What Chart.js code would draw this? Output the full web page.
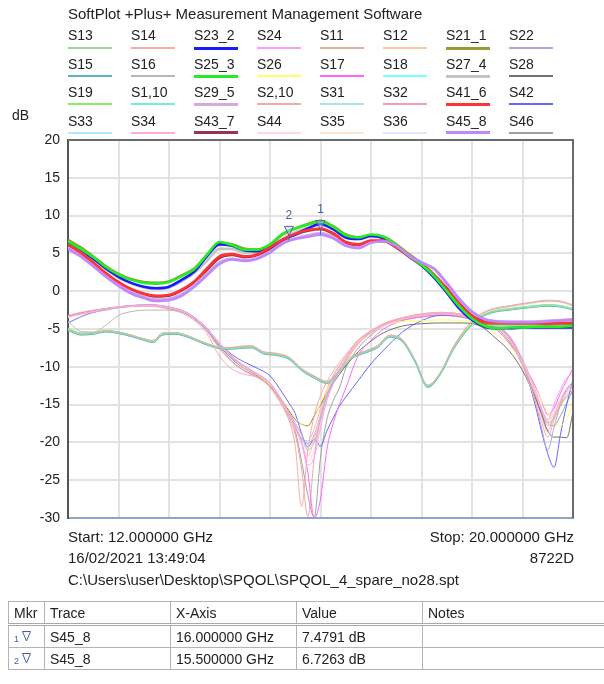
<!DOCTYPE html>
<html>
<head>
<meta charset="utf-8">
<script src="https://cdn.jsdelivr.net/npm/chart.js@4/dist/chart.umd.min.js"></script>
<style>
  body { margin: 0; width: 604px; height: 684px; overflow: hidden; background: #fff; position: relative;
         font-family: "Liberation Sans", Arial, sans-serif; color: #222; }
  #chart { position: absolute; left: 0; top: 0; }
  .t { position: absolute; font-size: 14px; line-height: 16px; white-space: nowrap; }
  .f { font-size: 15px; line-height: 17px; }
  .r { text-align: right; }
  .lg { position: absolute; height: 2px; width: 44px; }
  #tbl { position: absolute; left: 8px; top: 601px; width: 660px; table-layout: fixed; border-collapse: collapse; font-size: 14px; }
  #tbl td { border: 1px solid #b4b4b4; height: 21px; padding: 0 5px; white-space: nowrap; overflow: hidden; }
  #tbl tr.h td { border-bottom: 3px double #a8a8a8; }
  .mk { font-size: 9px; color: #4a5aa8; margin-right: 3px; }
</style>
</head>
<body>
<canvas id="chart" width="604" height="684"></canvas>
<div class="t f" style="left:68px;top:5px">SoftPlot +Plus+ Measurement Management Software</div>
<div class="t" style="left:12px;top:107px">dB</div>
<div id="legend"></div>
<div class="t f" style="left:68px;top:528px">Start: 12.000000 GHz</div>
<div class="t f r" style="right:30px;top:528px">Stop: 20.000000 GHz</div>
<div class="t f" style="left:68px;top:549px">16/02/2021 13:49:04</div>
<div class="t f r" style="right:30px;top:549px">8722D</div>
<div class="t f" style="left:68px;top:571px">C:\Users\user\Desktop\SPQOL\SPQOL_4_spare_no28.spt</div>
<table id="tbl">
  <colgroup><col style="width:36px"><col style="width:126px"><col style="width:126px"><col style="width:126px"><col style="width:246px"></colgroup>
  <tr class="h"><td>Mkr</td><td>Trace</td><td>X-Axis</td><td>Value</td><td>Notes</td></tr>
  <tr><td><span class="mk">1</span><svg width="9" height="12"><path d="M0.5 1.5 L8.5 1.5 L4.5 11 Z" fill="none" stroke="#4a5aa8"/></svg></td><td>S45_8</td><td>16.000000 GHz</td><td>7.4791 dB</td><td></td></tr>
  <tr><td><span class="mk">2</span><svg width="9" height="12"><path d="M0.5 1.5 L8.5 1.5 L4.5 11 Z" fill="none" stroke="#4a5aa8"/></svg></td><td>S45_8</td><td>15.500000 GHz</td><td>6.7263 dB</td><td></td></tr>
</table>
<script>
// frequency grids (GHz)
const freqT = [12.0, 12.2, 12.4, 12.6, 12.8, 13.0, 13.2, 13.4, 13.6, 13.8, 14.0, 14.2, 14.4, 14.6, 14.8, 15.0, 15.2, 15.4, 15.6, 15.8,
               16.0, 16.2, 16.4, 16.6, 16.8, 17.0, 17.2, 17.4, 17.6, 17.8, 18.0, 18.2, 18.4, 18.6, 18.8, 19.0, 19.2, 19.4, 19.6, 19.8, 20.0];
const freqA = [12.0, 12.2, 12.4, 12.6, 12.8, 13.0, 13.3, 13.6, 13.9, 14.2, 14.4, 14.6, 14.8, 15.0, 15.2, 15.4, 15.5, 15.6, 15.7, 15.8, 15.9, 16.0,
               16.1, 16.2, 16.3, 16.4, 16.6, 16.8, 17.0, 17.3, 17.6, 17.9, 18.2, 18.5, 18.8, 19.0, 19.2, 19.4, 19.5, 19.6, 19.7, 19.8, 19.9, 20.0];
const freqB = [12.0, 12.2, 12.4, 12.6, 12.8, 13.0, 13.2, 13.35, 13.5, 13.7, 13.9, 14.1, 14.3, 14.5, 14.7, 14.9, 15.1, 15.3, 15.5, 15.7,
               15.9, 16.1, 16.3, 16.5, 16.7, 16.9, 17.1, 17.3, 17.5, 17.7, 17.9, 18.1, 18.3, 18.5, 18.7, 19.0, 19.3, 19.6, 19.8, 20.0];

// transmission traces (dB, on freqT)
const s21_1 = [6.8, 5.8, 4.6, 3.3, 2.3, 1.6, 1.2, 1.1, 1.3, 2.1, 3.0, 4.8, 6.4, 6.2, 5.6, 5.5, 6.1, 7.5, 8.3, 8.9, 9.3, 8.6, 7.5, 7.1, 7.4, 7.2, 6.2, 4.9, 3.7, 2.2, 0.2, -1.8, -3.4, -4.3, -4.3, -4.3, -4.3, -4.3, -4.4, -4.3, -4.3];
const s23_2 = [6.5, 5.5, 4.3, 3.0, 1.9, 1.1, 0.6, 0.4, 0.6, 1.5, 2.6, 4.6, 6.2, 6.0, 5.4, 5.3, 5.8, 6.8, 7.5, 8.3, 8.9, 8.2, 7.1, 6.9, 7.3, 7.0, 6.0, 4.6, 3.4, 1.8, -0.2, -2.3, -3.8, -4.7, -4.9, -4.9, -4.8, -4.8, -4.8, -4.8, -4.8];
const s25_3 = [6.6, 5.6, 4.5, 3.2, 2.2, 1.5, 1.1, 1.0, 1.2, 2.0, 2.9, 4.8, 6.5, 6.1, 5.5, 5.5, 6.2, 7.6, 8.3, 8.8, 9.2, 8.5, 7.4, 7.1, 7.5, 7.2, 6.1, 4.7, 3.5, 2.0, 0.0, -2.0, -3.6, -4.6, -4.9, -4.8, -4.8, -4.7, -4.7, -4.7, -4.6];
const s27_4 = [6.4, 5.4, 4.2, 2.9, 1.8, 1.0, 0.5, 0.3, 0.5, 1.3, 2.4, 4.0, 5.6, 5.6, 5.1, 5.2, 5.9, 7.0, 7.8, 8.4, 8.8, 8.2, 7.1, 6.9, 7.2, 7.0, 6.0, 4.7, 3.6, 2.2, 0.2, -1.9, -3.5, -4.4, -4.5, -4.5, -4.5, -4.5, -4.5, -4.5, -4.4];
const s29_5 = [5.8, 4.8, 3.5, 2.1, 0.9, -0.1, -0.7, -1.1, -1.0, -0.4, 0.8, 2.3, 3.8, 4.3, 4.1, 4.4, 5.2, 6.4, 7.0, 7.4, 7.7, 7.2, 6.1, 5.8, 6.5, 6.7, 6.0, 4.7, 3.8, 2.9, 1.0, -1.1, -2.8, -3.7, -4.0, -4.0, -4.0, -4.0, -3.9, -3.8, -3.7];
const s41_6 = [6.2, 5.1, 3.8, 2.4, 1.2, 0.3, -0.3, -0.6, -0.5, 0.2, 1.3, 3.0, 4.6, 4.9, 4.6, 4.9, 5.8, 6.8, 7.6, 8.1, 8.3, 7.7, 6.5, 6.2, 6.7, 6.7, 5.8, 4.6, 3.5, 2.1, 0.3, -1.7, -3.3, -4.1, -4.1, -4.2, -4.2, -4.2, -4.3, -4.2, -4.2];
const s43_7 = [6.0, 5.0, 3.7, 2.3, 1.1, 0.2, -0.4, -0.7, -0.6, 0.1, 1.2, 2.8, 4.4, 4.8, 4.5, 4.8, 5.6, 6.7, 7.5, 8.0, 8.2, 7.6, 6.4, 6.1, 6.6, 6.6, 5.8, 4.6, 3.6, 2.2, 0.4, -1.6, -3.2, -4.0, -4.1, -4.2, -4.2, -4.3, -4.3, -4.2, -4.2];
const s45_8 = [5.6, 4.6, 3.3, 1.9, 0.7, -0.3, -0.9, -1.3, -1.2, -0.6, 0.6, 2.1, 3.6, 4.2, 4.0, 4.3, 5.1, 6.3, 6.9, 7.2, 7.48, 7.0, 6.0, 5.7, 6.4, 6.6, 6.0, 4.7, 3.8, 3.0, 1.1, -1.0, -2.7, -3.7, -4.0, -4.1, -4.1, -4.1, -4.0, -3.9, -3.8];

// reflection traces, first family (dB, on freqA)
const s12  = [-3.4, -3.0, -2.7, -2.4, -2.1, -2.0, -1.9, -2.2, -3.0, -5.0, -7.1, -8.9, -10.2, -11.1, -12.3, -14.8, -16.4, -18.2, -20.2, -21.8, -19.5, -16.2, -13.5, -11.6, -10.2, -9.0, -6.8, -5.4, -4.5, -3.7, -3.2, -3.0, -3.2, -3.8, -4.8, -6.4, -9.4, -13.4, -15.6, -17.2, -16.2, -14.6, -13.4, -12.8];
const s14  = [-3.2, -2.8, -2.5, -2.3, -2.1, -2.0, -2.0, -2.4, -3.3, -5.6, -8.6, -10.3, -11.0, -11.4, -12.6, -15.0, -17.0, -20.5, -28.5, -21.0, -16.5, -13.8, -12.0, -10.6, -9.4, -8.4, -6.4, -5.2, -4.3, -3.5, -3.1, -2.9, -3.1, -3.7, -4.7, -6.3, -9.8, -14.5, -17.2, -19.3, -17.0, -14.8, -13.2, -12.5];
const s16  = [-4.0, -5.3, -5.4, -4.5, -3.2, -2.7, -2.5, -2.5, -3.1, -5.0, -7.0, -8.8, -10.0, -11.0, -12.2, -14.6, -16.0, -17.5, -19.0, -21.0, -20.0, -17.0, -14.0, -12.0, -10.4, -9.2, -6.9, -5.5, -4.5, -3.7, -3.2, -3.0, -3.2, -3.8, -4.8, -6.5, -9.6, -13.5, -15.6, -17.4, -16.8, -15.2, -14.0, -13.5];
const s17  = [-3.4, -3.0, -2.7, -2.4, -2.1, -2.0, -1.9, -2.2, -3.0, -5.0, -7.0, -8.7, -10.0, -11.0, -12.3, -14.7, -16.3, -17.9, -20.0, -24.0, -30.0, -27.5, -21.0, -17.5, -15.0, -12.8, -8.5, -6.5, -5.0, -3.9, -3.4, -3.1, -3.3, -4.0, -5.2, -7.0, -9.5, -12.5, -14.5, -16.3, -15.5, -13.5, -11.8, -10.2];
const s22  = [-4.2, -3.4, -2.8, -2.5, -2.2, -2.0, -1.9, -2.2, -3.1, -5.2, -7.4, -9.3, -10.5, -11.4, -12.6, -15.0, -16.6, -18.2, -19.5, -20.2, -19.0, -16.5, -13.8, -11.8, -10.3, -9.0, -6.8, -5.4, -4.4, -3.6, -3.1, -2.9, -3.1, -3.7, -4.6, -6.0, -9.2, -14.5, -18.0, -21.0, -18.0, -15.0, -13.0, -12.0];
const s24  = [-3.4, -3.0, -2.7, -2.4, -2.1, -1.9, -1.8, -2.1, -2.9, -4.9, -6.9, -8.6, -9.9, -10.9, -12.1, -14.6, -16.2, -17.8, -20.0, -23.0, -22.0, -18.0, -14.5, -12.3, -10.6, -9.3, -6.9, -5.5, -4.5, -3.6, -3.1, -2.8, -3.0, -3.6, -4.6, -6.0, -9.0, -13.0, -15.5, -17.0, -15.0, -13.0, -11.5, -10.8];
const s26  = [-3.4, -3.0, -2.7, -2.4, -2.1, -2.0, -1.9, -2.2, -3.0, -5.0, -7.0, -8.8, -10.1, -11.1, -12.4, -14.4, -15.6, -16.8, -17.6, -17.9, -16.8, -14.8, -13.0, -11.8, -10.6, -9.5, -7.0, -5.6, -4.6, -4.0, -3.9, -3.8, -3.9, -4.2, -5.8, -7.2, -9.5, -12.8, -14.5, -16.0, -17.3, -17.8, -16.8, -15.0];
const s28  = [-3.3, -2.9, -2.6, -2.3, -2.1, -2.0, -1.9, -2.3, -3.1, -5.1, -7.2, -9.0, -10.2, -11.2, -12.5, -14.6, -15.8, -17.0, -17.6, -17.8, -16.5, -15.0, -13.6, -12.2, -11.0, -9.9, -8.0, -6.6, -5.5, -4.6, -4.3, -4.2, -4.2, -4.5, -6.4, -8.0, -10.5, -14.0, -16.2, -18.5, -19.3, -19.3, -19.4, -16.0];
const s2_10 = [-3.3, -2.9, -2.6, -2.3, -2.1, -2.0, -1.9, -2.3, -3.1, -5.3, -7.6, -9.4, -10.6, -11.4, -12.7, -15.3, -17.0, -19.0, -23.5, -29.8, -22.0, -16.5, -13.2, -11.2, -9.8, -8.6, -6.5, -5.3, -4.3, -3.5, -3.0, -2.8, -3.0, -3.6, -4.6, -6.2, -9.5, -14.0, -16.5, -18.5, -16.5, -14.5, -13.0, -12.3];
const s34  = [-3.3, -2.9, -2.6, -2.3, -2.1, -2.0, -1.9, -2.2, -3.0, -5.1, -7.2, -9.0, -10.3, -11.2, -12.4, -14.9, -16.4, -18.0, -19.5, -19.8, -18.2, -15.5, -13.0, -11.2, -9.9, -8.8, -6.6, -5.3, -4.4, -3.6, -3.1, -2.9, -3.1, -3.7, -4.8, -6.4, -9.6, -13.8, -16.0, -17.8, -16.8, -15.0, -13.8, -13.0];
const s36  = [-3.5, -3.1, -2.8, -2.5, -2.2, -2.1, -2.0, -2.3, -3.1, -5.1, -7.1, -8.9, -10.1, -11.0, -12.2, -14.7, -16.2, -17.8, -19.8, -21.0, -19.5, -16.8, -14.0, -12.0, -10.5, -9.2, -6.9, -5.5, -4.5, -3.7, -3.2, -3.0, -3.2, -3.8, -4.9, -6.5, -9.5, -13.6, -15.8, -17.6, -16.6, -15.0, -13.6, -13.0];
const s42  = [-4.2, -3.4, -2.8, -2.4, -2.1, -1.9, -1.8, -2.1, -2.9, -4.9, -6.9, -8.4, -9.4, -10.2, -11.2, -13.5, -14.8, -16.2, -18.8, -20.6, -19.6, -20.5, -18.5, -16.8, -15.2, -14.0, -11.8, -9.6, -7.8, -5.4, -3.9, -3.2, -3.3, -3.8, -4.8, -6.2, -9.5, -15.0, -18.5, -21.5, -23.3, -19.0, -15.0, -11.7];
const s44  = [-3.3, -2.9, -2.6, -2.3, -2.0, -1.9, -1.8, -2.1, -2.9, -4.9, -6.9, -8.7, -10.0, -10.9, -12.1, -14.5, -16.0, -17.6, -19.6, -22.5, -21.0, -17.5, -14.4, -12.2, -10.6, -9.3, -6.8, -5.4, -4.4, -3.5, -3.0, -2.8, -3.0, -3.6, -4.6, -6.1, -9.1, -13.2, -15.4, -17.0, -15.8, -14.2, -12.8, -12.0];
const s46  = [-3.3, -2.9, -2.6, -2.3, -2.1, -2.0, -1.9, -2.2, -3.0, -5.0, -7.0, -8.8, -10.1, -11.1, -12.4, -14.8, -16.5, -18.5, -22.5, -27.0, -29.9, -22.0, -17.0, -14.5, -12.8, -10.2, -7.5, -5.8, -4.6, -3.8, -3.4, -3.2, -3.4, -4.0, -5.0, -6.8, -9.8, -13.6, -15.8, -17.5, -17.8, -16.5, -14.8, -13.0];

// reflection traces, second family (dB, on freqB)
const s11  = [-5.1, -5.7, -5.5, -5.2, -5.4, -5.8, -6.3, -6.6, -5.6, -5.5, -5.9, -6.6, -7.2, -7.5, -7.4, -7.3, -8.1, -8.3, -8.8, -10.3, -11.3, -12.0, -10.5, -8.7, -8.0, -7.3, -5.9, -6.5, -9.2, -12.5, -10.8, -7.5, -5.0, -3.3, -2.5, -2.0, -1.6, -1.3, -1.4, -1.9];
const s13  = [-5.0, -5.6, -5.6, -5.3, -5.5, -5.9, -6.4, -6.7, -5.7, -5.6, -6.0, -6.7, -7.3, -7.6, -7.5, -7.4, -8.2, -8.4, -8.9, -10.4, -11.4, -12.1, -10.6, -8.8, -8.1, -7.4, -6.0, -6.6, -9.3, -12.6, -10.9, -7.7, -5.3, -3.6, -2.8, -2.4, -2.1, -1.9, -2.0, -2.4];
const s15  = [-5.2, -5.8, -5.7, -5.4, -5.6, -6.0, -6.5, -6.8, -5.8, -5.7, -6.1, -6.8, -7.4, -7.7, -7.6, -7.5, -8.3, -8.5, -9.0, -10.5, -11.5, -12.2, -10.7, -8.9, -8.2, -7.5, -6.1, -6.7, -9.4, -12.7, -11.0, -7.8, -5.4, -3.7, -2.9, -2.5, -2.2, -2.0, -2.1, -2.5];
const s18  = [-5.1, -5.7, -5.6, -5.4, -5.5, -5.9, -6.4, -6.7, -5.8, -5.6, -6.0, -6.7, -7.3, -7.6, -7.5, -7.4, -8.2, -8.5, -9.0, -10.5, -11.5, -12.2, -10.7, -8.8, -8.1, -7.4, -6.0, -6.7, -9.5, -12.8, -11.0, -7.8, -5.4, -3.7, -2.9, -2.4, -2.1, -1.9, -2.0, -2.3];
const s19  = [-4.9, -5.5, -5.5, -5.2, -5.4, -5.8, -6.3, -6.6, -5.6, -5.5, -5.9, -6.6, -7.2, -7.5, -7.4, -7.3, -8.1, -8.3, -8.8, -10.3, -11.3, -12.0, -10.5, -8.7, -8.0, -7.3, -5.9, -6.5, -9.2, -12.5, -10.8, -7.6, -5.2, -3.5, -2.7, -2.3, -2.0, -1.8, -1.9, -2.3];
const s1_10 = [-5.0, -5.6, -5.6, -5.3, -5.5, -5.9, -6.4, -6.7, -5.7, -5.6, -6.0, -6.7, -7.3, -7.6, -7.5, -7.4, -8.2, -8.4, -8.9, -10.4, -11.4, -12.1, -10.6, -8.8, -8.1, -7.4, -6.0, -6.6, -9.3, -12.6, -10.9, -7.7, -5.3, -3.6, -2.8, -2.3, -2.0, -1.8, -1.9, -2.3];
const s31  = [-5.1, -5.7, -5.6, -5.3, -5.5, -5.9, -6.4, -6.7, -5.7, -5.6, -6.0, -6.7, -7.3, -7.6, -7.5, -7.4, -8.2, -8.4, -8.9, -10.4, -11.4, -12.1, -10.6, -8.8, -8.1, -7.4, -6.0, -6.6, -9.3, -12.6, -10.9, -7.7, -5.3, -3.6, -2.8, -2.4, -2.1, -1.8, -1.9, -2.3];
const s32  = [-5.0, -5.6, -5.5, -5.2, -5.4, -5.8, -6.3, -6.5, -5.5, -5.5, -5.9, -6.6, -7.2, -7.5, -7.3, -7.2, -8.0, -8.2, -8.7, -10.2, -11.2, -11.9, -10.4, -8.6, -7.9, -7.2, -5.8, -6.4, -9.1, -12.4, -10.7, -7.4, -4.9, -3.2, -2.4, -1.9, -1.5, -1.2, -1.3, -1.8];
const s33  = [-5.2, -5.8, -5.7, -5.4, -5.6, -6.0, -6.5, -6.8, -5.8, -5.7, -6.1, -6.8, -7.4, -7.7, -7.6, -7.5, -8.3, -8.5, -9.0, -10.5, -11.5, -12.2, -10.7, -8.9, -8.2, -7.5, -6.1, -6.7, -9.4, -12.7, -11.0, -7.8, -5.4, -3.7, -2.9, -2.4, -2.1, -1.9, -2.0, -2.4];
const s35  = [-5.1, -5.7, -5.6, -5.3, -5.5, -5.9, -6.4, -6.7, -5.7, -5.6, -6.0, -6.7, -7.3, -7.6, -7.5, -7.4, -8.2, -8.4, -8.9, -10.4, -11.4, -12.1, -10.6, -8.8, -8.1, -7.4, -6.0, -6.6, -9.3, -12.6, -10.9, -7.6, -5.1, -3.4, -2.6, -2.1, -1.7, -1.4, -1.5, -2.0];

// markers on S45_8
const markerFreq = [16.0, 15.5];
const markerVal = [7.4791, 6.7263];

const yTicks = [20, 15, 10, 5, 0, -5, -10, -15, -20, -25, -30];

// legend order (4 rows x 8 columns)
const traceNames = ['S13', 'S14', 'S23_2', 'S24', 'S11', 'S12', 'S21_1', 'S22',
                    'S15', 'S16', 'S25_3', 'S26', 'S17', 'S18', 'S27_4', 'S28',
                    'S19', 'S1,10', 'S29_5', 'S2,10', 'S31', 'S32', 'S41_6', 'S42',
                    'S33', 'S34', 'S43_7', 'S44', 'S35', 'S36', 'S45_8', 'S46'];
const traceColors = ['#9fd49f', '#ffaaaa', '#1a1aff', '#ff9cff', '#d9b4a6', '#ffc8a0', '#999933', '#a8a8e0',
                     '#5fb4c4', '#b8b8b8', '#22ee22', '#ffff66', '#ff66ff', '#77ffff', '#c4c4c4', '#707070',
                     '#88ee66', '#70f0d8', '#d8a8d8', '#f0a8a8', '#a8e8e0', '#f0a0b4', '#ff3333', '#6666ff',
                     '#b0e8ff', '#ffaadd', '#993355', '#ffd8f0', '#ffe4d0', '#dce8ff', '#c088ff', '#a0a0a0'];
const traceData = [s13, s14, s23_2, s24, s11, s12, s21_1, s22,
                   s15, s16, s25_3, s26, s17, s18, s27_4, s28,
                   s19, s1_10, s29_5, s2_10, s31, s32, s41_6, s42,
                   s33, s34, s43_7, s44, s35, s36, s45_8, s46];
const transmission = [s21_1, s23_2, s25_3, s27_4, s29_5, s41_6, s43_7, s45_8];
const familyA = [s12, s14, s16, s17, s22, s24, s26, s28, s2_10, s34, s36, s42, s44, s46];
const onTop = [s45_8, s25_3, s41_6];

function freqFor(vals) {
  if (transmission.includes(vals)) return freqT;
  if (familyA.includes(vals)) return freqA;
  return freqB;
}

// legend
const legend = document.getElementById('legend');
traceNames.forEach((name, i) => {
  const col = i % 8, row = Math.floor(i / 8);
  const left = 68 + col * 63;
  const lbl = document.createElement('div');
  lbl.className = 't';
  lbl.style.left = left + 'px';
  lbl.style.top = (27 + row * 28.7) + 'px';
  lbl.textContent = name;
  legend.appendChild(lbl);
  const ln = document.createElement('div');
  ln.className = 'lg';
  const thick = transmission.includes(traceData[i]);
  ln.style.left = left + 'px';
  ln.style.top = (47 + row * 28.2 - (thick ? 0.5 : 0)) + 'px';
  ln.style.height = (thick ? 3 : 2) + 'px';
  ln.style.background = traceColors[i];
  legend.appendChild(ln);
});

const datasets = traceData.map((vals, i) => {
  const freqs = freqFor(vals);
  const thick = transmission.includes(vals);
  return {
    label: traceNames[i],
    data: freqs.map((f, k) => ({ x: f, y: vals[k] })),
    borderColor: traceColors[i],
    borderWidth: thick ? 2.6 : 1,
    pointRadius: 0,
    cubicInterpolationMode: 'monotone',
    order: onTop.includes(vals) ? onTop.indexOf(vals) : (thick ? 3 : 4)
  };
});

// plot frame (top/right edges)
const framePlugin = {
  id: 'frame',
  afterDatasetsDraw(chart) {
    const { ctx, chartArea: a } = chart;
    ctx.save();
    ctx.strokeStyle = '#6a6a6a';
    ctx.lineWidth = 2;
    ctx.beginPath();
    ctx.moveTo(a.left, a.top);
    ctx.lineTo(a.right, a.top);
    ctx.lineTo(a.right, a.bottom);
    ctx.stroke();
    ctx.restore();
  }
};

// marker triangles on S45_8
const markerPlugin = {
  id: 'markers',
  afterDatasetsDraw(chart) {
    const { ctx, scales: { x, y } } = chart;
    markerFreq.forEach((f, i) => {
      const px = x.getPixelForValue(f), py = y.getPixelForValue(markerVal[i]);
      ctx.save();
      ctx.strokeStyle = '#5563a8';
      ctx.fillStyle = 'rgba(190,196,235,0.45)';
      ctx.lineWidth = 1;
      ctx.beginPath();
      ctx.moveTo(px - 4.5, py - 14);
      ctx.lineTo(px + 4.5, py - 14);
      ctx.lineTo(px, py - 5);
      ctx.closePath();
      ctx.fill();
      ctx.stroke();
      ctx.beginPath();
      ctx.moveTo(px, py - 5);
      ctx.lineTo(px, py);
      ctx.stroke();
      ctx.fillStyle = '#4a5aa0';
      ctx.font = '12px "Liberation Sans", Arial, sans-serif';
      ctx.textAlign = 'center';
      ctx.textBaseline = 'middle';
      ctx.fillText(String(i + 1), px, py - 25);
      ctx.restore();
    });
  }
};

new Chart(document.getElementById('chart'), {
  type: 'line',
  data: { datasets },
  options: {
    responsive: false,
    animation: false,
    events: [],
    layout: { padding: { top: 140, right: 31, bottom: 166, left: 0 } },
    plugins: { legend: { display: false }, tooltip: { enabled: false } },
    scales: {
      x: {
        type: 'linear', min: 12, max: 20,
        ticks: { display: false, stepSize: 0.8 },
        grid: { color: '#e2e2e2', lineWidth: 2, drawTicks: false, tickLength: 0 },
        border: { display: true, color: '#8ea6bf', width: 2 },
        afterFit: (s) => { s.height = 0; }
      },
      y: {
        min: -30, max: 20,
        afterBuildTicks: (s) => { s.ticks = yTicks.map(v => ({ value: v })); },
        ticks: { color: '#222', padding: 8, font: { size: 14, family: '"Liberation Sans", Arial, sans-serif' } },
        grid: { color: '#e2e2e2', lineWidth: 2, drawTicks: false, tickLength: 0 },
        border: { display: true, color: '#555', width: 2 },
        afterFit: (s) => { s.width = 68; }
      }
    }
  },
  plugins: [framePlugin, markerPlugin]
});
</script>
</body>
</html>
